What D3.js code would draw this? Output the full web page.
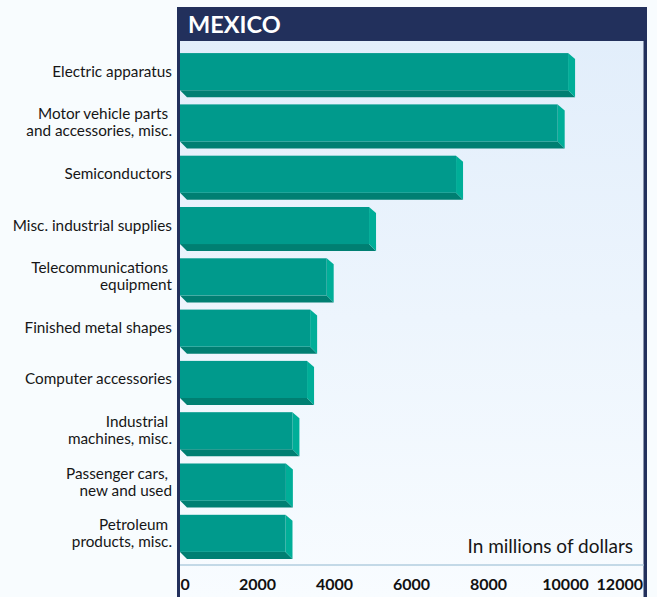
<!DOCTYPE html>
<html>
<head>
<meta charset="utf-8">
<script src="https://cdn.jsdelivr.net/npm/d3@7"></script>
<style>
  html, body { margin: 0; padding: 0; background: #f8fcfe; }
  svg { display: block; }
  text { font-family: Lato, "Open Sans", sans-serif; }
</style>
</head>
<body>
<svg id="chart" width="657" height="597"></svg>
<script>
// U.S. exports to Mexico, top ten categories (millions of dollars)
const categories = [
  ["Electric apparatus"],
  ["Motor vehicle parts\u00a0", "and accessories, misc."],
  ["Semiconductors"],
  ["Misc. industrial supplies"],
  ["Telecommunications\u00a0", "equipment"],
  ["Finished metal shapes"],
  ["Computer accessories"],
  ["Industrial\u00a0", "machines, misc."],
  ["Passenger cars,\u00a0", "new and used"],
  ["Petroleum\u00a0", "products, misc."]
];
const values = [10080, 9810, 7170, 4910, 3810, 3380, 3300, 2920, 2750, 2740];
const tickValues = [0, 2000, 4000, 6000, 8000, 10000, 12000];
const title = "MEXICO";
const unitNote = "In millions of dollars";

const svg = d3.select("#chart");
const W = 657, H = 597;

const frame = { left: 177, right: 647, top: 7, titleBottom: 41 };
const plot = { left: 180, right: 643.5, axisY: 565 };

const navy = "#22305c";
const face = "#009a8c", side = "#00ae98", under = "#007f72";

// background gradient of the plot panel
const defs = svg.append("defs");
const grad = defs.append("linearGradient")
  .attr("id", "panelGrad").attr("x1", 0).attr("y1", 0).attr("x2", 0).attr("y2", 1);
grad.append("stop").attr("offset", "0%").attr("stop-color", "#e2eefb");
grad.append("stop").attr("offset", "100%").attr("stop-color", "#f8fcff");

svg.append("rect")
  .attr("x", plot.left).attr("y", frame.titleBottom)
  .attr("width", plot.right - plot.left).attr("height", H - frame.titleBottom)
  .attr("fill", "url(#panelGrad)");

// frame: title band and side rules
svg.append("rect")
  .attr("x", frame.left).attr("y", frame.top)
  .attr("width", frame.right - frame.left).attr("height", frame.titleBottom - frame.top)
  .attr("fill", navy);
svg.append("rect")
  .attr("x", frame.left).attr("y", frame.top)
  .attr("width", plot.left - frame.left).attr("height", H - frame.top)
  .attr("fill", navy);
svg.append("rect")
  .attr("x", plot.right).attr("y", frame.top)
  .attr("width", frame.right - plot.right).attr("height", H - frame.top)
  .attr("fill", navy);

svg.append("text")
  .attr("x", 188).attr("y", 33)
  .attr("fill", "#ffffff")
  .attr("font-weight", 700)
  .attr("font-size", 23.5)
  .text(title);

// scales
const x = d3.scaleLinear().domain([0, 12000]).range([180, 642]);
const y = d3.scaleBand()
  .domain(d3.range(categories.length))
  .range([49.5, 562.5])
  .paddingInner(0.14)
  .paddingOuter(0.07);

const depthX = 7, depthY = 7;
const bw = y.bandwidth();
const faceH = bw - depthY;

const bars = svg.append("g").selectAll("g")
  .data(values)
  .join("g");

// underside
bars.append("path")
  .attr("fill", under)
  .attr("d", (d, i) => {
    const t = y(i), xe = x(d), x0 = x(0);
    return `M${x0},${t + faceH} L${xe},${t + faceH} L${xe + depthX},${t + bw} L${x0 + depthX},${t + bw} Z`;
  });
// right side
bars.append("path")
  .attr("fill", side)
  .attr("d", (d, i) => {
    const t = y(i), xe = x(d);
    return `M${xe},${t} L${xe + depthX},${t + depthY - 1} L${xe + depthX},${t + bw} L${xe},${t + faceH} Z`;
  });
// front face
bars.append("rect")
  .attr("fill", face)
  .attr("x", x(0))
  .attr("y", (d, i) => y(i))
  .attr("width", d => x(d) - x(0))
  .attr("height", faceH);

// category labels
const lineH = 17;
const labels = svg.append("g").selectAll("text")
  .data(categories)
  .join("text")
  .attr("text-anchor", "end")
  .attr("font-size", 15.3)
  .attr("fill", "#161616")
  .attr("xml:space", "preserve")
  .attr("transform", (d, i) => `translate(172,${y(i) + faceH / 2 + 5 - (d.length - 1) * lineH / 2})`);
labels.selectAll("tspan")
  .data(d => d)
  .join("tspan")
  .attr("x", 0)
  .attr("dy", (d, j) => j === 0 ? 0 : lineH)
  .text(d => d);

// x axis
svg.append("line")
  .attr("x1", plot.left).attr("x2", plot.right)
  .attr("y1", plot.axisY).attr("y2", plot.axisY)
  .attr("stroke", "#c3d9e7").attr("stroke-width", 2);

const axis = d3.axisBottom(x).tickValues(tickValues).tickSize(0).tickPadding(0)
  .tickFormat(d3.format("d"));
const axG = svg.append("g").attr("transform", `translate(0,${plot.axisY})`).call(axis);
axG.select(".domain").remove();
axG.selectAll("text")
  .attr("font-size", 16)
  .attr("font-weight", 700)
  .attr("fill", "#111")
  .attr("font-family", "Lato, sans-serif")
  .attr("dy", null)
  .attr("y", 25)
  .attr("text-anchor", d => d === 0 ? "start" : (d === 12000 ? "end" : "middle"))
  .attr("x", d => d === 0 ? 0 : (d === 12000 ? 0.5 : 0));

svg.append("text")
  .attr("x", 633).attr("y", 553)
  .attr("text-anchor", "end")
  .attr("font-size", 19)
  .attr("fill", "#161616")
  .text(unitNote);
</script>
</body>
</html>
